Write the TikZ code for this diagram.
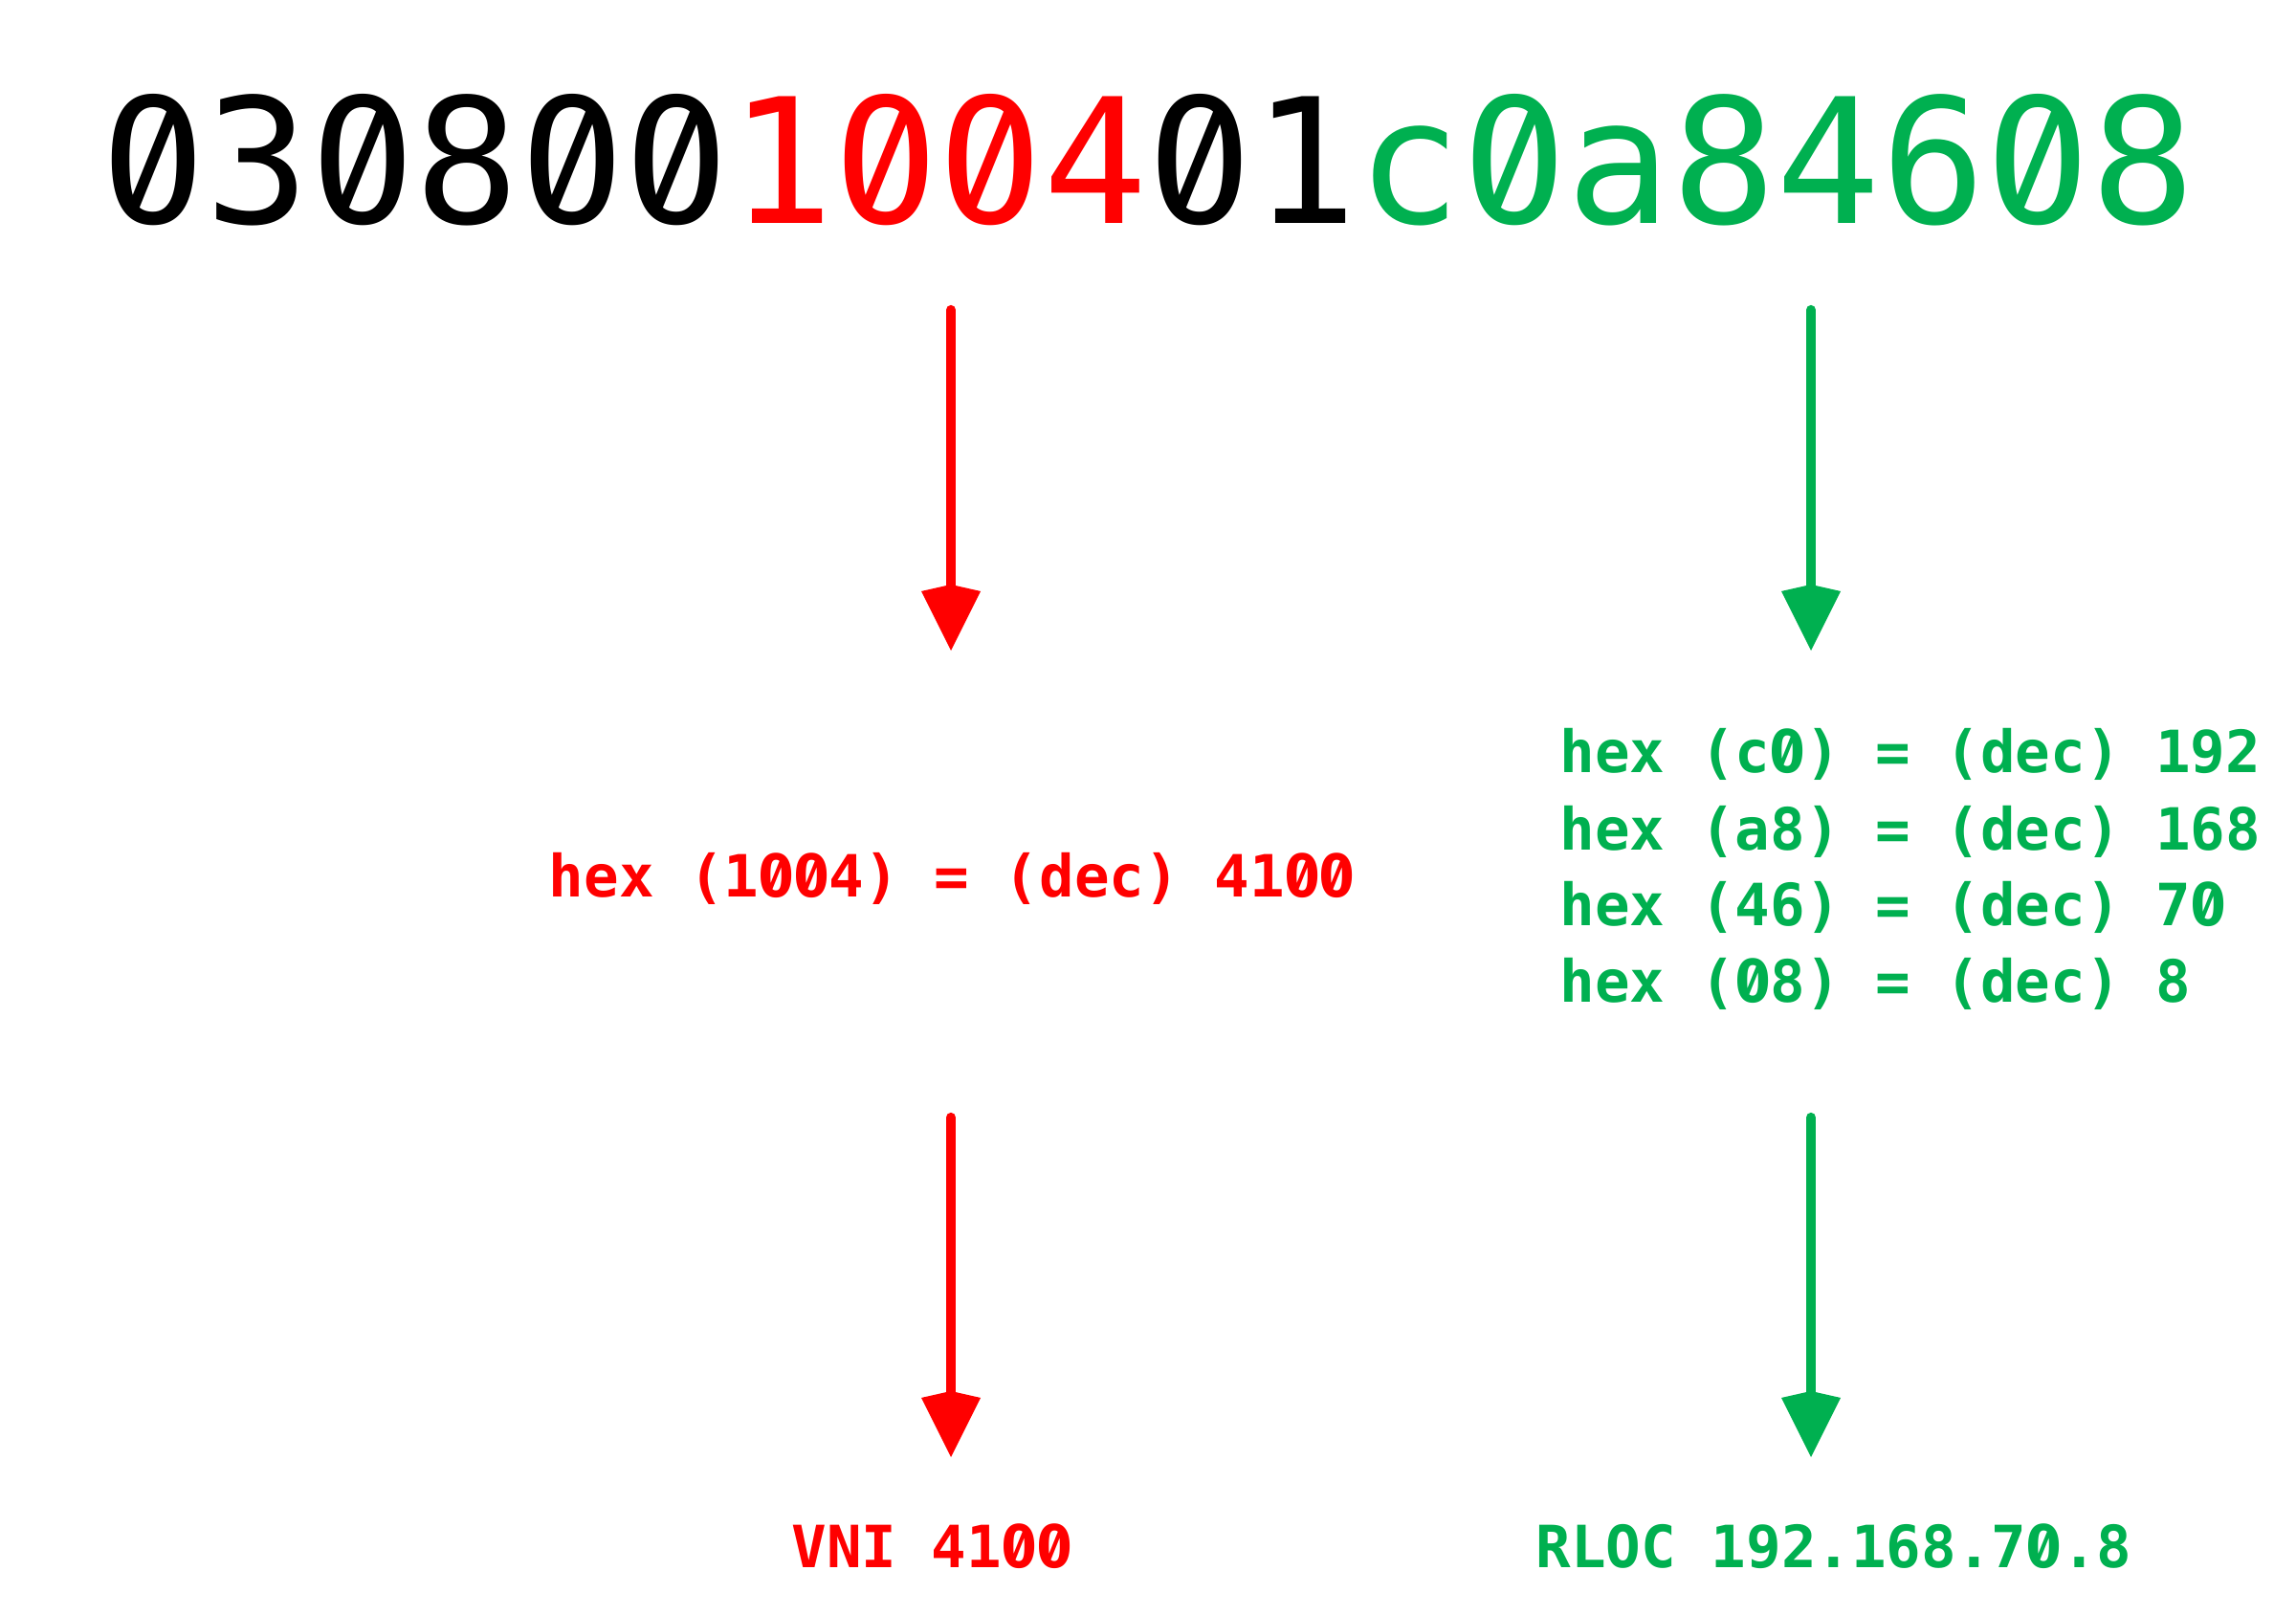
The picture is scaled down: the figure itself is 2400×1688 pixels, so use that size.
\documentclass[tikz,border=0pt]{standalone}
\usepackage{fontspec}
\usetikzlibrary{arrows.meta}
\newfontfamily\hexmono{DejaVu Sans Mono}
\newfontfamily\zerofont{Fira Sans}[Numbers={Monospaced,SlashedZero},Scale=1.06]
\newcommand\z{\makebox[\dimexpr\fontcharwd\font`0\relax][c]{\zerofont 0}}
\definecolor{hred}{HTML}{FF0000}
\definecolor{hgreen}{HTML}{00B050}
\tikzset{
  px/.style={x=0.01cm,y=-0.01cm},
  bigtxt/.style={inner sep=0pt,anchor=base,font=\hexmono\fontsize{51.7}{60}\selectfont},
  lbl/.style={inner sep=0pt,font=\hexmono\bfseries\fontsize{17.3}{22}\selectfont},
  conv/.style={line width=0.103cm,line cap=round,-{Kite[length=0.69cm,width=0.62cm,inset=0.07cm]}},
}
\begin{document}
\begin{tikzpicture}[px]
\useasboundingbox (0,0) rectangle (2400,1688);
\node[bigtxt] (hexstr) at (1200,233) {\z3\z8\z\z\textcolor{hred}{1\z\z4}\z1\textcolor{hgreen}{c\z a846\z8}};
% arrows
\coordinate (r1s) at (994,324);
\coordinate (r1e) at (994,680);
\coordinate (r2s) at (994,1168);
\coordinate (r2e) at (994,1523);
\coordinate (g1s) at (1893,324);
\coordinate (g1e) at (1893,680);
\coordinate (g2s) at (1893,1168);
\coordinate (g2e) at (1893,1523);
\draw[conv,hred] (r1s) -- (r1e);
\draw[conv,hred] (r2s) -- (r2e);
\draw[conv,hgreen] (g1s) -- (g1e);
\draw[conv,hgreen] (g2s) -- (g2e);
% labels
\node[lbl,text=hred,anchor=base] (vnihex) at (995,937) {hex (1\z\z4) = (dec) 41\z\z};
\node[lbl,text=hgreen,anchor=base west] (gl1) at (1630,807) {hex (c\z) = (dec) 192};
\node[lbl,text=hgreen,anchor=base west] (gl2) at (1630,888) {hex (a8) = (dec) 168};
\node[lbl,text=hgreen,anchor=base west] (gl3) at (1630,967) {hex (46) = (dec) 7\z};
\node[lbl,text=hgreen,anchor=base west] (gl4) at (1630,1047) {hex (\z8) = (dec) 8};
\node[lbl,text=hred,anchor=base] (vni) at (974,1638) {VNI 41\z\z};
\node[lbl,text=hgreen,anchor=base] (rloc) at (1917,1638) {RLOC 192.168.7\z.8};
\end{tikzpicture}
\end{document}
